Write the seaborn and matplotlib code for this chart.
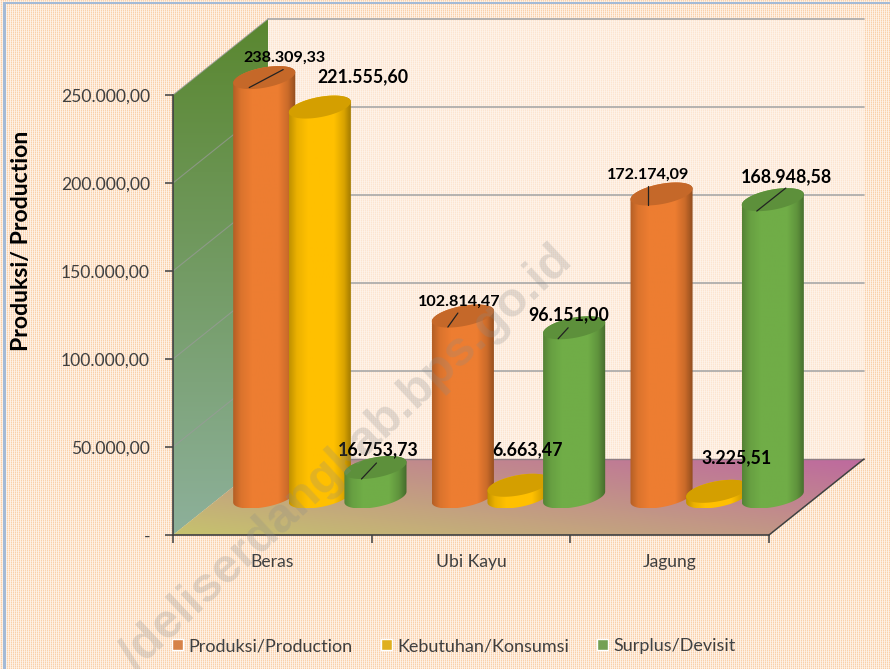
import numpy as np
import pandas as pd
import seaborn as sns
import matplotlib
matplotlib.use('Agg')
import matplotlib.pyplot as plt
from matplotlib.patches import Polygon
from matplotlib.colors import to_rgb
from matplotlib.transforms import IdentityTransform

categories = ['Beras', 'Ubi Kayu', 'Jagung']
series = ['Produksi/Production', 'Kebutuhan/Konsumsi', 'Surplus/Devisit']
produksi = [238309.33, 102814.47, 172174.09]
kebutuhan = [221555.60, 6663.47, 3225.51]
surplus = [16753.73, 96151.00, 168948.58]
y_ticks = [0, 50000, 100000, 150000, 200000, 250000]
y_tick_labels = ['-', '50.000,00', '100.000,00', '150.000,00', '200.000,00', '250.000,00']
colors = ['#ED7D31', '#FFC000', '#70AD47']

# layout in pixels
W, H = 890, 669
LEFT, RIGHT, TOP, BOTTOM = 173, 769, 95, 535
DEPTH_X, DEPTH_Y = 95, 76
A, B, C = 27.5, 14.4, 11.5   # ellipse of a cylinder section
label_off = [[(20, 20), (-4, 14), (-13, 19)],
             [(43, 30), (9, 36), (19, 34)],
             [(3, 17.5), (-5, 13), (14, 22.6)]]
leader_off = [[((-15, -10), (19, 8)), ((-15, -11), (-5, 3)), ((-14, -11), (-14, 8))],
              [None, None, None],
              [((-14, -11.5), (1, 4.5)), ((-16, -11), (-6, 0)), ((-16, -11.4), (13, 11.6))]]
label_size = [11.6, 12.8, 12.8]

sns.set_theme(style='white')
plt.rcParams['font.family'] = ['Lato', 'DejaVu Sans']


def fmt(v):
    return f'{v:,.2f}'.replace(',', '#').replace('.', ',').replace('#', '.')


def shade_stops(col):
    c = np.array(to_rgb(col))
    pos = [0, 0.12, 0.3, 0.72, 0.88, 1]
    fac = [0.76, 0.92, 1.0, 1.0, 0.85, 0.62]
    return np.array([np.interp(np.linspace(0, 1, 64), pos, fac)]).T * c


fig = plt.figure(figsize=(W / 100, H / 100), dpi=100)

# dotted page background
tile = np.array([[[253, 238, 224], [250, 208, 170]],
                 [[254, 243, 232], [252, 226, 202]]], dtype=float) / 255
texture = np.tile(tile, (H // 2 + 1, W // 2 + 1, 1))[:H, :W]
texture[3:, 3:6] = to_rgb('#A4BAD6')
texture[2:4, 3:] = to_rgb('#A4BAD6')
fig.figimage(texture, 0, 0, origin='upper', zorder=-5)

ax = fig.add_axes([LEFT / W, 1 - BOTTOM / H, (RIGHT - LEFT) / W, (BOTTOM - TOP) / H])
ax.patch.set_visible(False)

df = pd.DataFrame({'cat': categories * 3,
                   'serie': np.repeat(series, 3),
                   'valor': produksi + kebutuhan + surplus})
sns.barplot(data=df, x='cat', y='valor', hue='serie', hue_order=series, order=categories,
            palette=colors, width=0.84, gap=0, ax=ax, errorbar=None)
bars = list(ax.patches)

ax.set_xlim(-0.5, 2.5)
ax.set_ylim(0, 250000)
ax.set_autoscale_on(False)
ax.set_xlabel('')
ax.set_ylabel('')
ax.set_yticks(y_ticks)
ax.set_yticklabels(y_tick_labels, fontsize=12.6, color='#404040')
ax.set_xticks([-0.5, 0.5, 1.5, 2.5])
ax.set_xticklabels([])
ax.set_xticks([0, 1, 2], minor=True)
ax.set_xticklabels(categories, minor=True, fontsize=12.6, color='#404040')
ax.tick_params(axis='x', which='major', bottom=True, length=6, width=1.1, color='#404040')
ax.tick_params(axis='x', which='minor', bottom=False, length=0, pad=14)
ax.tick_params(axis='y', left=True, length=6, width=1.1, color='#404040', pad=10.5)
sns.despine(ax=ax, top=True, right=True)
for s in ['left', 'bottom']:
    ax.spines[s].set_color('#404040')
    ax.spines[s].set_linewidth(1.2)
    ax.spines[s].set_zorder(12)

fig.text(22 / W, 1 - 241 / H, 'Produksi/ Production', rotation=90, fontsize=16.6,
         fontweight='bold', color='black', ha='center', va='center')

ident = IdentityTransform()


def to_px(x, v, d=0.0):
    p = ax.transData.transform((x, v))
    return p[0] + d * DEPTH_X, p[1] + d * DEPTH_Y


def fill_gradient(img, verts, zorder):
    xs, ys = zip(*verts)
    im = ax.imshow(img, extent=(min(xs), max(xs), min(ys), max(ys)), origin='lower',
                   aspect='auto', transform=ident, interpolation='bilinear', zorder=zorder)
    im.set_clip_box(fig.bbox)
    im.set_clip_path(Polygon(verts, transform=ident))
    return im


# back wall
back = [to_px(-0.5, 0, 1), to_px(2.5, 0, 1), to_px(2.5, 250000, 1), to_px(-0.5, 250000, 1)]
ax.add_patch(Polygon(back, closed=True, transform=ident, fc='#FEF3EA', ec='none', alpha=0.6,
                     zorder=1, clip_on=False))

# left wall
wall = [to_px(-0.5, 0, 0), to_px(-0.5, 0, 1), to_px(-0.5, 250000, 1), to_px(-0.5, 250000, 0)]
top_c, bot_c = np.array(to_rgb('#5A8730')), np.array(to_rgb('#8DB09A'))
grad = np.linspace(bot_c, top_c, 64).reshape(64, 1, 3)
fill_gradient(grad, wall, 2)

# floor
floor = [to_px(-0.5, 0, 0), to_px(2.5, 0, 0), to_px(2.5, 0, 1), to_px(-0.5, 0, 1)]
u, w_ = np.meshgrid(np.linspace(0, 1, 64), np.linspace(0, 1, 32))
t = (0.55 * u + 0.45 * w_)[..., None]
grad = (1 - t) * np.array(to_rgb('#C6C26E')) + t * np.array(to_rgb('#BE6A9E'))
fill_gradient(grad, floor, 2)

# grid on back and left wall
for v in y_ticks:
    x0, y0 = to_px(-0.5, v, 0)
    x1, y1 = to_px(-0.5, v, 1)
    x2, y2 = to_px(2.5, v, 1)
    if v > 0:
        ax.plot([x1, x2], [y1, y2], color='#A8A8A8', lw=1.2, transform=ident, zorder=3, clip_on=False)
        ax.plot([x0, x1], [y0, y1], color='#9A9A9A', lw=0.8, alpha=0.7, transform=ident, zorder=3, clip_on=False)
p = [to_px(-0.5, 0, 1), to_px(2.5, 0, 1)]
ax.plot(*zip(*p), color='#8E7F85', lw=1, transform=ident, zorder=3, clip_on=False)
p = [to_px(2.5, 0, 0), to_px(2.5, 0, 1)]
ax.plot(*zip(*p), color='#404040', lw=1.1, transform=ident, zorder=12, clip_on=False)

# cylinders
tt = np.linspace(0, 2 * np.pi, 121)
t0 = np.arctan2(B, A)
z = 4.0
for i, col in enumerate(colors):
    for j in range(len(categories)):
        bar = bars[i * len(categories) + j]
        bar.set_visible(False)
        cx, _ = to_px(bar.get_x() + bar.get_width() / 2, 0, 0.5)
        _, base = to_px(0, 0, 0.5)
        _, top = to_px(0, bar.get_height(), 0.5)
        low = np.linspace(t0 + np.pi, t0 + 2 * np.pi, 60)
        up = np.linspace(t0, t0 + np.pi, 60)
        body = list(zip(cx + A * np.cos(low) + B * np.sin(low), base + C * np.sin(low)))
        body += list(zip(cx + A * np.cos(up) + B * np.sin(up), top + C * np.sin(up)))
        fill_gradient(shade_stops(col)[None, :, :], body, z)
        disc = list(zip(cx + A * np.cos(tt) + B * np.sin(tt), top + C * np.sin(tt)))
        ax.add_patch(Polygon(disc, closed=True, transform=ident, fc=np.array(to_rgb(col)) * 0.83,
                             ec='none', zorder=z + 0.1, clip_on=False))
        if leader_off[i][j] is not None:
            (sx, sy), (ex, ey) = leader_off[i][j]
            ax.plot([cx + sx, cx + ex], [top + sy, top + ey], color='#222222', lw=0.9,
                    transform=ident, zorder=z + 0.2, clip_on=False)
        dx, dy = label_off[i][j]
        ax.text(cx + dx, top + dy, fmt(bar.get_height()), transform=ident, ha='center', va='center',
                fontsize=label_size[i], fontweight='bold', color='black', zorder=20, clip_on=False)
        z += 0.5

ax.text(566, H - 254, '/deliserdangkab.bps.go.id', transform=ident, rotation=43,
        rotation_mode='anchor', ha='right', va='center', fontsize=35, fontweight='bold',
        family='Liberation Sans', color='#8A8A8A', alpha=0.25, zorder=25, clip_on=False)

sns.move_legend(ax, 'center', bbox_to_anchor=(454 / W, 1 - 646 / H), bbox_transform=fig.transFigure,
                ncol=3, frameon=False, title=None, fontsize=13, labelcolor='#404040',
                handlelength=0.62, handleheight=0.62, handletextpad=0.3, columnspacing=1.55)

fig.savefig('out.png', dpi=100)
